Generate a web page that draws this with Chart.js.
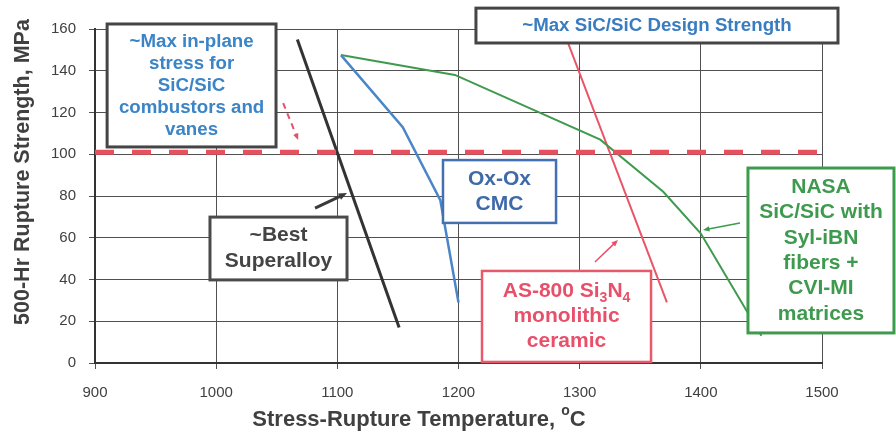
<!DOCTYPE html>
<html><head><meta charset="utf-8">
<script src="https://cdn.jsdelivr.net/npm/chart.js@4/dist/chart.umd.min.js"></script>
<style>html,body{margin:0;padding:0;background:#fff;}</style>
</head><body>
<canvas id="c" width="896" height="436"></canvas>
<script>
// ---- data ----
const xTicks = [900, 1000, 1100, 1200, 1300, 1400, 1500];
const yTicks = [0, 20, 40, 60, 80, 100, 120, 140, 160];
const superalloyTemp = [1067, 1151];
const superalloyStrength = [155, 17];
const oxoxTemp = [1103, 1154, 1185, 1200];
const oxoxStrength = [147.5, 113, 78, 29];
const nasaTemp = [1103, 1197, 1317, 1369, 1400, 1450];
const nasaStrength = [147.5, 138, 107, 82, 62, 13];
const as800Temp = [1286, 1372];
const as800Strength = [160, 29];
const designTemp = [900, 1500];
const designStrength = [101, 101];

const FONT = '"Liberation Sans", Arial, Helvetica, sans-serif';
const pts = (xs, ys) => xs.map((x, i) => ({x, y: ys[i]}));

// annotation boxes (data units)
const notes = [
  {x0: 910, x1: 1049.4, y0: 162.4, y1: 103.5, border: '#454545', bw: 3, color: '#3b84c6', size: 18.7, lh: 22,
   lines: [['~Max in-plane'], ['stress for'], ['SiC/SiC'], ['combustors and'], ['vanes']]},
  {x0: 1214.4, x1: 1513.2, y0: 170.0, y1: 153.3, border: '#454545', bw: 3, color: '#3a7cc0', size: 18.7, lh: 22,
   lines: [['~Max SiC/SiC Design Strength']]},
  {x0: 1187.2, x1: 1280.5, y0: 97.2, y1: 67.1, border: '#4370b0', bw: 2.5, color: '#3f6aa8', size: 21, lh: 25,
   lines: [['Ox-Ox'], ['CMC']]},
  {x0: 994.9, x1: 1108.0, y0: 69.9, y1: 39.8, border: '#4a4a4a', bw: 3, color: '#444444', size: 21, lh: 26,
   lines: [['~Best'], ['Superalloy']]},
  {x0: 1219.4, x1: 1358.9, y0: 44.1, y1: 0.5, border: '#e85a6a', bw: 2.5, color: '#e8506a', size: 21, lh: 25,
   lines: [['AS-800 Si', {sub: '3'}, 'N', {sub: '4'}], ['monolithic'], ['ceramic']]},
  {x0: 1438.9, x1: 1559.4, y0: 93.4, y1: 14.4, border: '#3e9a4c', bw: 3, color: '#3e9a4e', size: 21, lh: 25.4,
   lines: [['NASA'], ['SiC/SiC with'], ['Syl-iBN'], ['fibers +'], ['CVI-MI'], ['matrices']]}
];
const arrows = [
  {x0: 1055.3, y0: 124.5, x1: 1067.7, y1: 106.8, color: '#e8506a', w: 2, dash: [6, 5], head: 7},
  {x0: 1081.6, y0: 74.2, x1: 1108.0, y1: 81.4, color: '#3a3a3a', w: 3, dash: [], head: 9},
  {x0: 1312.6, y0: 48.4, x1: 1331.6, y1: 58.9, color: '#e8506a', w: 1.5, dash: [], head: 7},
  {x0: 1432.3, y0: 67.1, x1: 1401.8, y1: 63.7, color: '#3e9a4e', w: 1.5, dash: [], head: 7}
];

function richWidth(ctx, runs, size) {
  let w = 0;
  for (const r of runs) {
    if (typeof r === 'string') { ctx.font = `bold ${size}px ${FONT}`; w += ctx.measureText(r).width; }
    else { ctx.font = `bold ${Math.round(size * 0.65)}px ${FONT}`; w += ctx.measureText(r.sub || r.sup).width; }
  }
  return w;
}
function drawRich(ctx, runs, cx, cy, size, color) {
  const total = richWidth(ctx, runs, size);
  let x = cx - total / 2;
  ctx.fillStyle = color;
  ctx.textAlign = 'left';
  ctx.textBaseline = 'middle';
  for (const r of runs) {
    if (typeof r === 'string') {
      ctx.font = `bold ${size}px ${FONT}`;
      ctx.fillText(r, x, cy);
      x += ctx.measureText(r).width;
    } else {
      ctx.font = `bold ${Math.round(size * 0.65)}px ${FONT}`;
      const t = r.sub || r.sup;
      ctx.fillText(t, x, cy + (r.sub ? size * 0.32 : -size * 0.38));
      x += ctx.measureText(t).width;
    }
  }
}

const overlay = {
  id: 'overlay',
  afterDatasetsDraw(chart) {
    const ctx = chart.ctx, xs = chart.scales.x, ys = chart.scales.y;
    ctx.save();
    // arrows
    for (const a of arrows) {
      const x0 = xs.getPixelForValue(a.x0), y0 = ys.getPixelForValue(a.y0);
      const x1 = xs.getPixelForValue(a.x1), y1 = ys.getPixelForValue(a.y1);
      const ang = Math.atan2(y1 - y0, x1 - x0);
      ctx.strokeStyle = a.color; ctx.fillStyle = a.color; ctx.lineWidth = a.w;
      ctx.setLineDash(a.dash);
      ctx.beginPath(); ctx.moveTo(x0, y0);
      ctx.lineTo(x1 - Math.cos(ang) * a.head * 0.8, y1 - Math.sin(ang) * a.head * 0.8); ctx.stroke();
      ctx.setLineDash([]);
      ctx.beginPath(); ctx.moveTo(x1, y1);
      ctx.lineTo(x1 - a.head * Math.cos(ang - 0.4), y1 - a.head * Math.sin(ang - 0.4));
      ctx.lineTo(x1 - a.head * Math.cos(ang + 0.4), y1 - a.head * Math.sin(ang + 0.4));
      ctx.closePath(); ctx.fill();
    }
    // boxes
    for (const n of notes) {
      const l = xs.getPixelForValue(n.x0), r = xs.getPixelForValue(n.x1);
      const t = ys.getPixelForValue(n.y0), b = ys.getPixelForValue(n.y1);
      ctx.fillStyle = '#ffffff';
      ctx.fillRect(l, t, r - l, b - t);
      ctx.strokeStyle = n.border; ctx.lineWidth = n.bw;
      ctx.strokeRect(l, t, r - l, b - t);
      const cx = (l + r) / 2, cy = (t + b) / 2;
      const first = cy - (n.lines.length - 1) * n.lh / 2;
      n.lines.forEach((ln, i) => drawRich(ctx, ln, cx, first + i * n.lh, n.size, n.color));
    }
    // axis titles
    drawRich(ctx, ['Stress-Rupture Temperature, ', {sup: 'o'}, 'C'], 419, 420, 22, '#404040');
    ctx.save();
    ctx.translate(23, 172);
    ctx.rotate(-Math.PI / 2);
    drawRich(ctx, ['500-Hr Rupture Strength, MPa'], 0, 0, 21.5, '#404040');
    ctx.restore();
    ctx.restore();
  }
};

const lineDs = (data, color, w, extra = {}) => Object.assign({
  data, borderColor: color, backgroundColor: color, borderWidth: w,
  showLine: true, pointRadius: 0, pointHoverRadius: 0, tension: 0
}, extra);

new Chart(document.getElementById('c'), {
  type: 'scatter',
  data: {
    datasets: [
      lineDs(pts(designTemp, designStrength), '#e8505e', 5, {borderDash: [19, 18]}),
      lineDs(pts(superalloyTemp, superalloyStrength), '#333333', 3),
      lineDs(pts(oxoxTemp, oxoxStrength), '#4a86c8', 2.5),
      lineDs(pts(nasaTemp, nasaStrength), '#3e9a4c', 2),
      lineDs(pts(as800Temp, as800Strength), '#ea5466', 2)
    ]
  },
  options: {
    responsive: false,
    animation: false,
    devicePixelRatio: 1,
    layout: {padding: {left: 0, right: 74, top: 29, bottom: 0}},
    plugins: {legend: {display: false}, tooltip: {enabled: false}},
    scales: {
      x: {
        type: 'linear', min: 900, max: 1500,
        afterBuildTicks: s => { s.ticks = xTicks.map(v => ({value: v})); },
        afterFit: s => { s.height = 73; },
        ticks: {font: {family: FONT, size: 15}, color: '#404040', padding: 15, maxRotation: 0,
                callback: v => String(v)},
        grid: {color: '#505050', lineWidth: 1, tickLength: 6, tickColor: '#505050'},
        border: {color: '#333333', width: 2}
      },
      y: {
        type: 'linear', min: 0, max: 160,
        afterBuildTicks: s => { s.ticks = yTicks.map(v => ({value: v})); },
        afterFit: s => { s.width = 95; },
        ticks: {font: {family: FONT, size: 15}, color: '#404040', padding: 13,
                callback: v => String(v)},
        grid: {color: '#505050', lineWidth: 1, tickLength: 6, tickColor: '#505050'},
        border: {color: '#333333', width: 2}
      }
    }
  },
  plugins: [overlay]
});
</script>
</body></html>
